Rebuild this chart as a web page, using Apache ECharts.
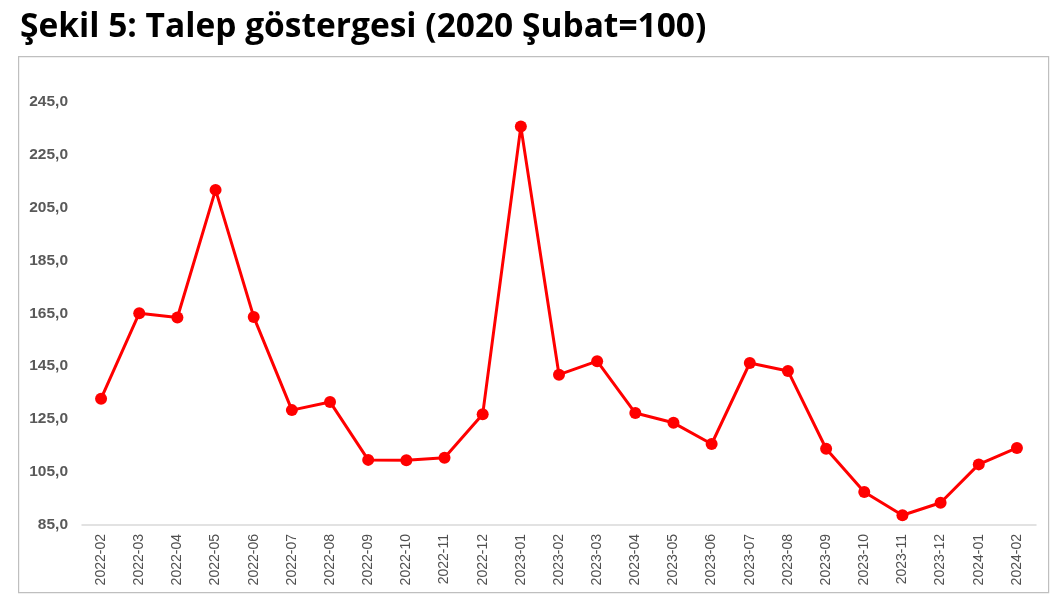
<!DOCTYPE html>
<html>
<head>
<meta charset="utf-8">
<script src="https://cdn.jsdelivr.net/npm/echarts@6/dist/echarts.min.js"></script>
<style>
html,body{margin:0;padding:0;background:#fff;}
#chart{width:1060px;height:600px;}
</style>
</head>
<body>
<div id="chart"></div>
<script>
const titleText = 'Şekil 5: Talep göstergesi (2020 Şubat=100)';
const categories = ['2022-02','2022-03','2022-04','2022-05','2022-06','2022-07','2022-08','2022-09','2022-10','2022-11','2022-12','2023-01','2023-02','2023-03','2023-04','2023-05','2023-06','2023-07','2023-08','2023-09','2023-10','2023-11','2023-12','2024-01','2024-02'];
const demandIndex = [132.7,165.0,163.4,211.6,163.6,128.4,131.5,109.6,109.5,110.4,126.8,235.5,141.8,146.9,127.3,123.6,115.6,146.2,143.2,113.8,97.5,88.7,93.4,107.9,114.1];
const yMin = 85, yMax = 255, yStep = 20;

const chart = echarts.init(document.getElementById('chart'), null, {renderer:'canvas'});
chart.setOption({
  animation:false,
  backgroundColor:'#ffffff',
  title:{
    text:titleText, left:15, top:5,
    textStyle:{fontFamily:'Open Sans', fontWeight:'bold', fontSize:33.5, color:'#000'}
  },
  graphic:[{
    type:'rect', left:18, top:56, z:-1,
    shape:{width:1030, height:536},
    style:{fill:'#fff', stroke:'#bfbfbf', lineWidth:1.2}
  }],
  grid:{left:82, right:24, top:75, bottom:75},
  xAxis:{
    type:'category', data:categories, boundaryGap:true,
    axisLine:{show:true, lineStyle:{color:'#d9d9d9', width:1.5}},
    axisTick:{show:false},
    axisLabel:{rotate:90, margin:9, fontFamily:'Liberation Sans', fontSize:14, color:'#505050', interval:0}
  },
  yAxis:{
    type:'value', min:yMin, max:yMax, interval:yStep,
    axisLine:{show:false}, axisTick:{show:false}, splitLine:{show:false},
    axisLabel:{
      showMaxLabel:false, margin:14,
      fontFamily:'Liberation Sans', fontWeight:'bold', fontSize:15.5, color:'#595959',
      formatter:v=>v.toFixed(1).replace('.',',')
    }
  },
  series:[{
    type:'line', data:demandIndex,
    lineStyle:{color:'#ff0000', width:3},
    itemStyle:{color:'#ff0000'},
    symbol:'circle', symbolSize:12, showSymbol:true
  }]
});
</script>
</body>
</html>
